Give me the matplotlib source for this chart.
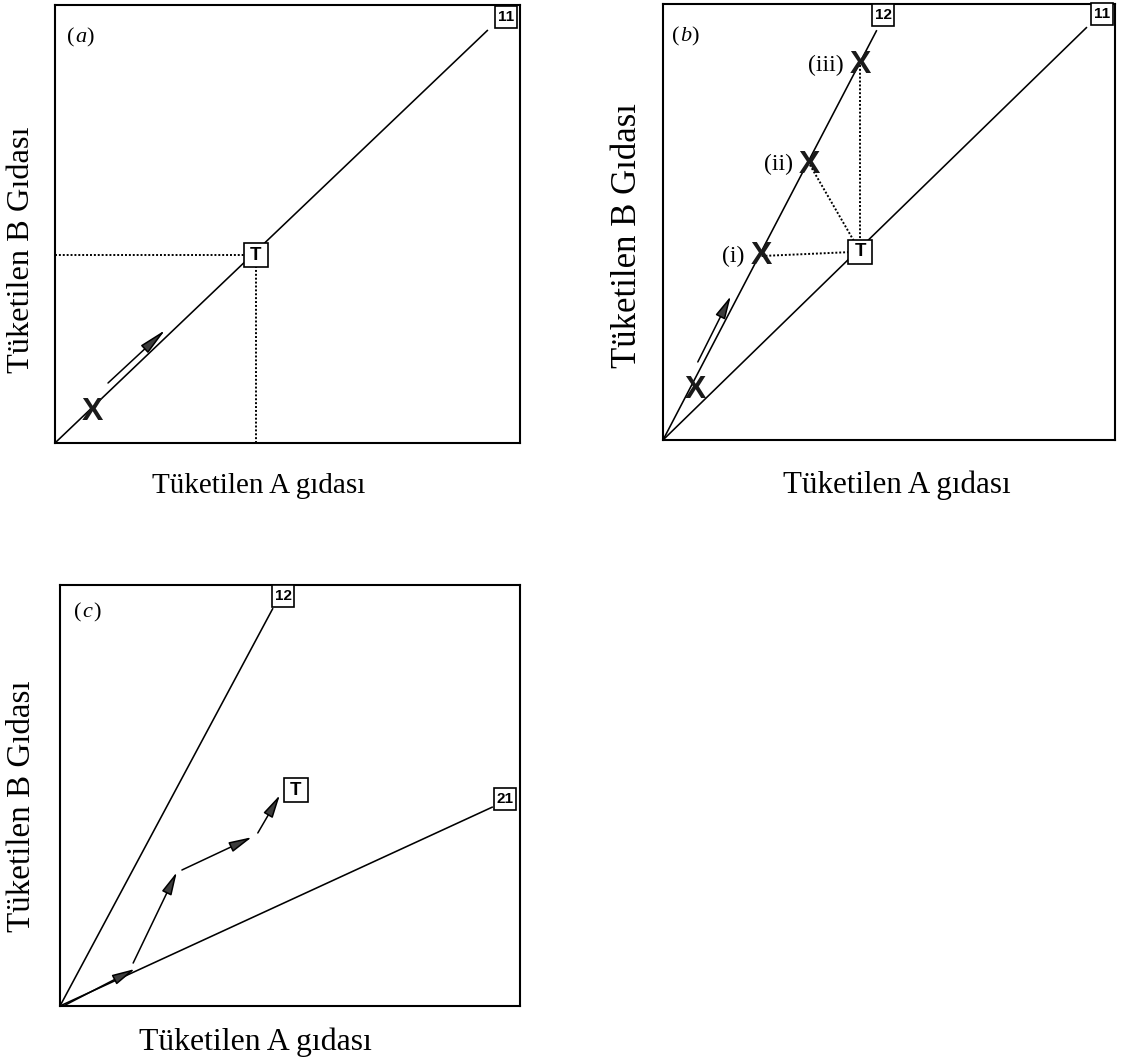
import matplotlib
matplotlib.use("Agg")
import matplotlib.pyplot as plt
from matplotlib.patches import FancyArrowPatch, ArrowStyle

W, H, DPI = 1131, 1061, 100

# ---- panel (a): a single balanced diet (ratio 1:1) ----
a_line11_x = [0, 93.1]
a_line11_y = [0, 94.3]
a_box11 = (97.0, 97.3)
a_target = (43.2, 42.9)
a_start = (8.0, 7.1)
a_arrow_x = [11.4, 23.7]
a_arrow_y = [13.7, 25.8]

# ---- panel (b): two diets, 1:1 and 1:2 ----
b_line12_x = [0, 47.3]
b_line12_y = [0, 94.0]
b_line11_x = [0, 93.8]
b_line11_y = [0, 94.7]
b_box12 = (48.7, 97.4)
b_box11 = (97.1, 97.7)
b_target = (43.6, 43.2)
b_points_x = [21.8, 32.5, 43.6]
b_points_y = [42.2, 63.1, 86.0]
b_point_labels = ["(i)", "(ii)", "(iii)"]
b_start = (7.1, 11.5)
b_arrow_x = [7.7, 15.0]
b_arrow_y = [17.9, 33.0]

# ---- panel (c): two complementary diets, 1:2 and 2:1 ----
c_line12_x = [0, 46.3]
c_line12_y = [0, 94.5]
c_line21_x = [0, 94.1]
c_line21_y = [0, 47.3]
c_box12 = (48.5, 97.4)
c_box21 = (96.7, 49.2)
c_target = (51.3, 51.3)
c_arrow_x0 = [1.1, 15.9, 26.5, 43.0]
c_arrow_y0 = [0.2, 10.2, 32.3, 41.1]
c_arrow_x1 = [16.3, 25.4, 41.7, 47.8]
c_arrow_y1 = [8.8, 31.8, 40.1, 50.1]

x_label = "Tüketilen A gıdası"
y_label = "Tüketilen B Gıdası"

SERIF = "Liberation Serif"
SANS = "Liberation Sans"
LINE = dict(color="black", lw=1.15, solid_capstyle="butt")
DOT = dict(color="black", lw=1.4, linestyle=(0, (1, 1)))
ARROW_FILL = "#3c3c3c"

fig = plt.figure(figsize=(W / DPI, H / DPI), dpi=DPI)
fig.patch.set_facecolor("white")


def px_axes(left, top, right, bottom):
    ax = fig.add_axes([left / W, 1 - bottom / H, (right - left) / W, (bottom - top) / H])
    ax.set_xlim(0, 100)
    ax.set_ylim(0, 100)
    ax.set_xticks([])
    ax.set_yticks([])
    for s in ax.spines.values():
        s.set_linewidth(1.5)
        s.set_color("black")
    return ax


def box(ax, xy, label, size=16.5, fs=11):
    ax.plot([xy[0]], [xy[1]], marker="s", ms=size, mfc="white", mec="black",
            mew=1.2, zorder=5, clip_on=False)
    ax.text(xy[0], xy[1], label, ha="center", va="center", fontsize=fs,
            family=SANS, fontweight="bold", zorder=6)


def cross(ax, xy):
    ax.text(xy[0], xy[1], "X", ha="center", va="center", fontsize=23,
            family=SANS, fontweight="bold", color="#1a1a1a", zorder=7)


def arrow(ax, x0, y0, x1, y1, hl=14, hw=3.2):
    style = ArrowStyle("-|>", head_length=hl / 10, head_width=hw / 10)
    p = FancyArrowPatch((x0, y0), (x1, y1), arrowstyle=style, mutation_scale=10,
                        color="black", fc=ARROW_FILL, lw=1.1, shrinkA=0, shrinkB=0,
                        zorder=4)
    ax.add_patch(p)


def tag(ax, x, y, letter):
    """Panel tag like (a): upright parentheses around an italic letter."""
    ax.text(x, y, "(", transform=ax.transAxes, fontsize=16, family=SERIF,
            ha="left", va="center")
    ax.text(x + 0.018, y, letter, transform=ax.transAxes, fontsize=16, family=SERIF,
            style="italic", ha="left", va="center")
    ax.text(x + 0.042, y, ")", transform=ax.transAxes, fontsize=16, family=SERIF,
            ha="left", va="center")


# ---------- (a) ----------
ax = px_axes(55, 5, 520, 443)
ax.plot(a_line11_x, a_line11_y, **LINE)
ax.plot([0, a_target[0]], [a_target[1], a_target[1]], **DOT)
ax.plot([a_target[0], a_target[0]], [0, a_target[1]], **DOT)
box(ax, a_box11, "11")
box(ax, a_target, "T", size=17.5, fs=13.5)
cross(ax, a_start)
arrow(ax, a_arrow_x[0], a_arrow_y[0], a_arrow_x[1], a_arrow_y[1], hl=17)
tag(ax, 0.025, 0.925, "a")

# ---------- (b) ----------
ax = px_axes(663, 4, 1115, 440)
ax.plot(b_line12_x, b_line12_y, **LINE)
ax.plot(b_line11_x, b_line11_y, **LINE)
for px_, py_ in zip(b_points_x, b_points_y):
    ax.plot([px_, b_target[0]], [py_, b_target[1]], **DOT)
box(ax, b_box12, "12")
box(ax, b_box11, "11")
box(ax, b_target, "T", size=17.5, fs=13.5)
for px_, py_, lab in zip(b_points_x, b_points_y, b_point_labels):
    cross(ax, (px_, py_))
    ax.annotate(lab, (px_, py_), xytext=(-12, 0), textcoords="offset points",
                ha="right", va="center", fontsize=17, family=SERIF)
cross(ax, b_start)
arrow(ax, b_arrow_x[0], b_arrow_y[0], b_arrow_x[1], b_arrow_y[1])
tag(ax, 0.02, 0.925, "b")

# ---------- (c) ----------
ax = px_axes(60, 585, 520, 1006)
ax.plot(c_line12_x, c_line12_y, **LINE)
ax.plot(c_line21_x, c_line21_y, **LINE)
box(ax, c_box12, "12")
box(ax, c_box21, "21")
box(ax, c_target, "T", size=17.5, fs=13.5)
for x0, y0, x1, y1 in zip(c_arrow_x0, c_arrow_y0, c_arrow_x1, c_arrow_y1):
    arrow(ax, x0, y0, x1, y1)
tag(ax, 0.03, 0.935, "c")

# ---------- axis titles ----------
def ftext(x, y, s, **kw):
    fig.text(x / W, 1 - y / H, s, family=SERIF, **kw)

ftext(259, 493, x_label, fontsize=21, ha="center", va="baseline")
ftext(897, 493, x_label, fontsize=22.3, ha="center", va="baseline")
ftext(255, 1050, x_label, fontsize=22.9, ha="center", va="baseline")
ftext(22, 250, y_label, fontsize=23.3, ha="center", va="center", rotation=90)
ftext(628, 236, y_label, fontsize=25, ha="center", va="center", rotation=90)
ftext(22, 806, y_label, fontsize=23.9, ha="center", va="center", rotation=90)

fig.savefig("out.png", dpi=DPI, facecolor="white")
